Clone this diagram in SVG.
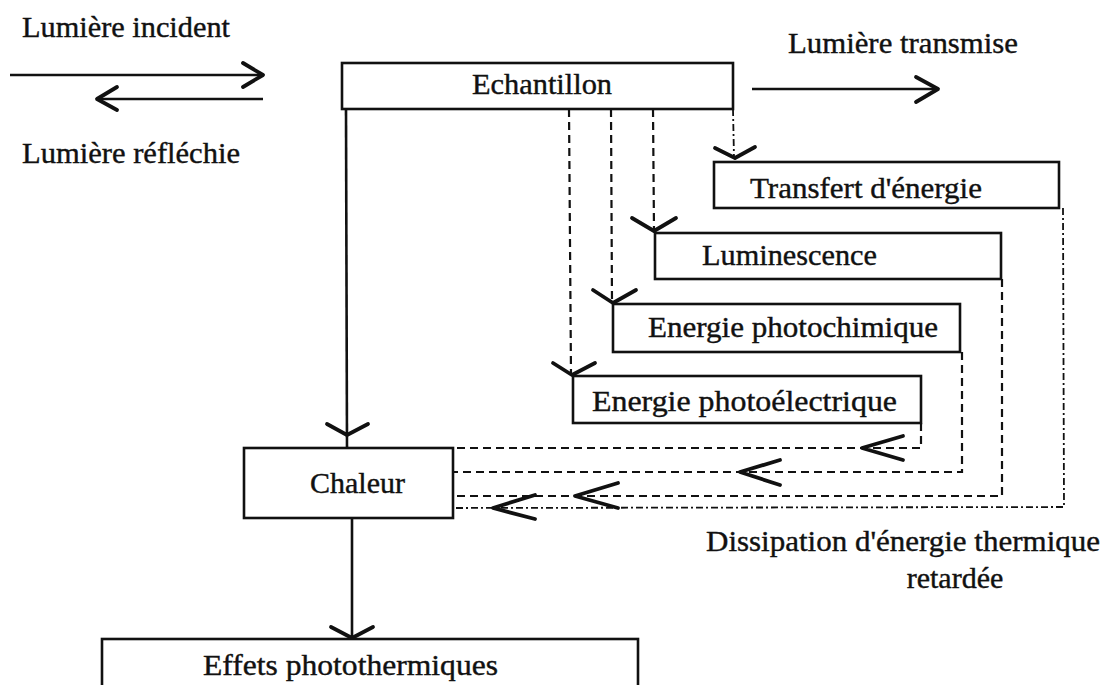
<svg xmlns="http://www.w3.org/2000/svg" width="1107" height="685" viewBox="0 0 1107 685">
<style>
text{font-family:"Liberation Serif","Times New Roman",serif;font-size:30px;fill:#111;stroke:#111;stroke-width:0.4}
.box{fill:none;stroke:#111;stroke-width:2.6}
.solid{fill:none;stroke:#111;stroke-width:2.6}
.dash{fill:none;stroke:#111;stroke-width:2.2;stroke-dasharray:8 5}
.dashdot{fill:none;stroke:#111;stroke-width:1.8;stroke-dasharray:7 3 2 3}
.chev{fill:none;stroke:#111;stroke-width:3.8;stroke-linecap:round;stroke-linejoin:round}
</style>
<rect width="1107" height="685" fill="#fff"/>
<g id="connectors">
  <line class="solid" x1="10" y1="75" x2="262" y2="75"/>
  <polyline class="chev" points="243,63 263,75 243,87"/>
  <line class="solid" x1="98" y1="99" x2="263" y2="99"/>
  <polyline class="chev" points="117,87 97,99 117,110"/>
  <line class="solid" x1="752" y1="89" x2="937" y2="89"/>
  <polyline class="chev" points="916,77 938,89 916,102"/>
  <line class="solid" x1="346" y1="109" x2="347" y2="448"/>
  <polyline class="chev" points="327,424 347,435 368,424"/>
  <line class="solid" x1="352" y1="518" x2="352" y2="639"/>
  <polyline class="chev" points="331,627 352,638 373,627"/>
  <line class="dashdot" x1="733" y1="109" x2="734" y2="158"/>
  <polyline class="chev" points="715,148 735,158 755,147"/>
  <line class="dash" x1="653" y1="109" x2="654" y2="231"/>
  <polyline class="chev" points="632,218 654,231 676,218"/>
  <line class="dash" x1="611" y1="109" x2="612" y2="303"/>
  <polyline class="chev" points="593,290 613,303 636,290"/>
  <line class="dash" x1="569" y1="109" x2="571" y2="375"/>
  <polyline class="chev" points="553,363 572,375 595,363"/>
  <polyline class="dash" points="921,423 921,448 453,448"/>
  <polyline class="chev" points="903,436 862,448 903,460"/>
  <polyline class="dash" points="962,352 962,472 453,472"/>
  <polyline class="chev" points="780,460 740,472 780,485"/>
  <polyline class="dash" points="1002,279 1002,496 453,496"/>
  <polyline class="chev" points="618,483 575,496 618,508"/>
  <polyline class="dashdot" points="1063,208 1064,507 453,508"/>
  <polyline class="chev" points="535,495 493,508 535,519"/>
</g>
<g id="label-incident"><text x="22" y="37" textLength="208" lengthAdjust="spacingAndGlyphs">Lumière incident</text></g>
<g id="label-reflechie"><text x="22" y="163" textLength="218" lengthAdjust="spacingAndGlyphs">Lumière réfléchie</text></g>
<g id="label-transmise"><text x="788" y="53" textLength="230" lengthAdjust="spacingAndGlyphs">Lumière transmise</text></g>
<g id="node-echantillon">
  <rect class="box" x="342" y="63" width="391" height="46"/>
  <text x="472" y="94" textLength="140" lengthAdjust="spacingAndGlyphs">Echantillon</text>
</g>
<g id="node-transfert">
  <rect class="box" x="714" y="162" width="345" height="46"/>
  <text x="750" y="198" textLength="232" lengthAdjust="spacingAndGlyphs">Transfert d'énergie</text>
</g>
<g id="node-luminescence">
  <rect class="box" x="655" y="233" width="346" height="46"/>
  <text x="702" y="265" textLength="175" lengthAdjust="spacingAndGlyphs">Luminescence</text>
</g>
<g id="node-photochimique">
  <rect class="box" x="613" y="304" width="347" height="48"/>
  <text x="648" y="337" textLength="290" lengthAdjust="spacingAndGlyphs">Energie photochimique</text>
</g>
<g id="node-photoelectrique">
  <rect class="box" x="573" y="376" width="348" height="47"/>
  <text x="592" y="411" textLength="305" lengthAdjust="spacingAndGlyphs">Energie photoélectrique</text>
</g>
<g id="node-chaleur">
  <rect class="box" x="244" y="448" width="209" height="70"/>
  <text x="310" y="493" textLength="95" lengthAdjust="spacingAndGlyphs">Chaleur</text>
</g>
<g id="label-dissipation">
  <text x="706" y="551" textLength="394" lengthAdjust="spacingAndGlyphs">Dissipation d'énergie thermique</text>
  <text x="955" y="588" text-anchor="middle">retardée</text>
</g>
<g id="node-effets">
  <rect class="box" x="102" y="639" width="536" height="48"/>
  <text x="203" y="675" textLength="295" lengthAdjust="spacingAndGlyphs">Effets photothermiques</text>
</g>
</svg>
